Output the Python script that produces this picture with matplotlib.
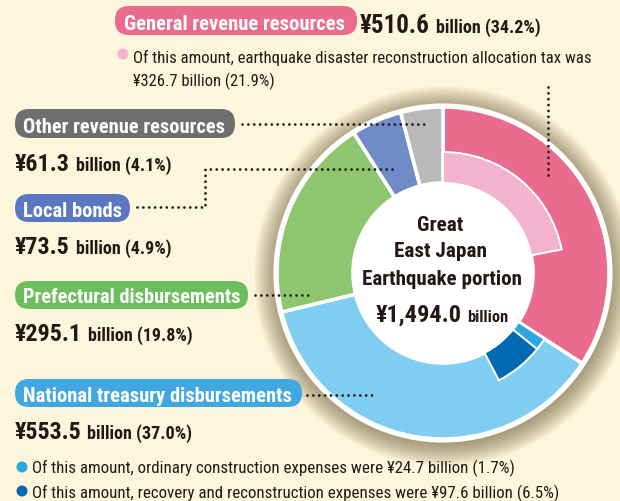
import matplotlib
matplotlib.use('Agg')
import matplotlib.pyplot as plt
from matplotlib.patches import Circle, FancyBboxPatch
import matplotlib.font_manager as fm

# ---------------- data ----------------
outer_labels = ['General revenue resources', 'National treasury disbursements',
                'Prefectural disbursements', 'Local bonds', 'Other revenue resources']
outer_values = [510.6, 553.5, 295.1, 73.5, 61.3]          # billion yen
outer_pct = [34.2, 37.0, 19.8, 4.9, 4.1]
outer_colors = ['#E96C8E', '#80CDF2', '#8DC66F', '#6F8CC9', '#B9B9B9']
pill_colors = ['#E96C8E', '#41A7E0', '#6CBD5B', '#5A78C2', '#6E6E6E']

sub_labels = ['earthquake disaster reconstruction allocation tax',
              'ordinary construction expenses',
              'recovery and reconstruction expenses']
sub_values = [326.7, 24.7, 97.6]
sub_pct = [21.9, 1.7, 6.5]
sub_colors = ['#F3B2CD', '#2BA8E1', '#0069B4']
total = 1494.0

# ---------------- style ----------------
W, H = 620, 502
BG = '#FEF6DC'
INK = '#231815'

avail = {f.name for f in fm.fontManager.ttflist}
if 'Liberation Sans Narrow' in avail:
    FAM, STRETCH = 'Liberation Sans Narrow', 'normal'
elif 'DejaVu Sans Condensed' in avail:
    FAM, STRETCH = 'DejaVu Sans Condensed', 'normal'
elif 'Roboto Condensed' in avail:
    FAM, STRETCH = 'Roboto Condensed', 'normal'
else:
    FAM, STRETCH = 'Liberation Sans', 'normal'


def Y(y):
    return H - y


fig = plt.figure(figsize=(W / 100, H / 100), dpi=100, facecolor=BG)
ax = fig.add_axes([0, 0, 1, 1])
ax.set_facecolor(BG)

cx, cy = 443, Y(274)
R, R_in, R_sub = 166, 90, 121

# soft shadow
n = 22
for i in range(n):
    r = R + 24 - i * 1.1
    ax.add_patch(Circle((cx + 1, cy - 3), r, facecolor='#5e4d25', edgecolor='none',
                        alpha=0.03, zorder=0.5))

wedges, _ = ax.pie(outer_values, colors=outer_colors, radius=R, center=(cx, cy),
                   startangle=90, counterclock=False, frame=True,
                   wedgeprops=dict(width=R - R_in, edgecolor='white', linewidth=2.6))
for w in wedges:
    w.set_zorder(1)

inner_vals = [sub_values[0], outer_values[0] - sub_values[0], sub_values[1], sub_values[2],
              total - outer_values[0] - sub_values[1] - sub_values[2]]
iw, _ = ax.pie(inner_vals, colors=[sub_colors[0], 'none', sub_colors[1], sub_colors[2], 'none'],
               radius=R_sub, center=(cx, cy), startangle=90, counterclock=False, frame=True,
               wedgeprops=dict(width=R_sub - R_in, edgecolor='white', linewidth=1.4))
iw[1].set_visible(False)
iw[4].set_visible(False)
for w in iw:
    w.set_zorder(2)

ax.add_patch(Circle((cx, cy), R_in, facecolor='white', edgecolor='none', zorder=3))
ax.add_patch(Circle((cx, cy), R + 1.5, facecolor='none', edgecolor='white', linewidth=3.0, zorder=4))

ax.set_xlim(0, W)
ax.set_ylim(0, H)
ax.set_aspect('equal')
ax.axis('off')

renderer = fig.canvas.get_renderer()


def txt(x, y, s, width, size, color=INK, weight='bold', ha='left', z=6):
    t = ax.text(x, Y(y), s, fontsize=size, color=color, fontweight=weight, family=FAM,
                fontstretch=STRETCH, ha=ha, va='baseline', zorder=z)
    w = t.get_window_extent(renderer).width
    if w > 0:
        t.set_fontsize(size * width / w)
    return t


def pill(x0, y0, x1, y1, color):
    ax.add_patch(FancyBboxPatch((x0, Y(y1)), x1 - x0, y1 - y0,
                                boxstyle='round,pad=0,rounding_size=14',
                                facecolor=color, edgecolor='none', zorder=5))


def dotted(xs, ys):
    ax.plot(xs, [Y(v) for v in ys], color=INK, linewidth=2.0,
            linestyle=(0, (0.01, 2.1)), dash_capstyle='round', zorder=5)


# ---- General revenue resources ----
pill(115, 7, 357, 36, pill_colors[0])
txt(124, 30, outer_labels[0], 221, 15, color='white')
txt(360, 33, f'¥{outer_values[0]:.1f}', 70, 18)
txt(436, 33, f'billion ({outer_pct[0]:.1f}%)', 105, 12.5)
ax.add_patch(Circle((123, Y(55)), 5.5, facecolor=sub_colors[0], edgecolor='none', zorder=5))
txt(133, 63, f'Of this amount, {sub_labels[0]} was', 463, 12.5, weight='normal')
txt(133, 86, f'¥{sub_values[0]:.1f} billion ({sub_pct[0]:.1f}%)', 142, 12.5, weight='normal')
dotted([548, 548], [88, 179])

# ---- Other revenue resources ----
pill(15, 110, 235, 139, pill_colors[4])
txt(23, 133, outer_labels[4], 202, 15, color='white')
txt(15, 171, f'¥{outer_values[4]:.1f}', 55, 18)
txt(76, 171, f'billion ({outer_pct[4]:.1f}%)', 96, 12.5)
dotted([242, 425], [125, 125])

# ---- Local bonds ----
pill(15, 195, 130, 223, pill_colors[3])
txt(23, 217, outer_labels[3], 99, 15, color='white')
txt(15, 254, f'¥{outer_values[3]:.1f}', 55, 18)
txt(76, 254, f'billion ({outer_pct[3]:.1f}%)', 96, 12.5)
dotted([137, 205, 205, 397], [208, 208, 170, 170])

# ---- Prefectural disbursements ----
pill(15, 282, 248, 310, pill_colors[2])
txt(23, 303, outer_labels[2], 218, 15, color='white')
txt(15, 341, f'¥{outer_values[2]:.1f}', 67, 18)
txt(88, 341, f'billion ({outer_pct[2]:.1f}%)', 105, 12.5)
dotted([255, 313], [296, 296])

# ---- National treasury disbursements ----
pill(15, 380, 302, 408, pill_colors[1])
txt(23, 402, outer_labels[1], 270, 15, color='white')
txt(15, 439, f'¥{outer_values[1]:.1f}', 67, 18)
txt(87, 439, f'billion ({outer_pct[1]:.1f}%)', 106, 12.5)
dotted([307, 372], [396, 396])
ax.add_patch(Circle((22, Y(468)), 5.5, facecolor=sub_colors[1], edgecolor='none', zorder=5))
txt(32, 473, f'Of this amount, {sub_labels[1]} were ¥{sub_values[1]:.1f} billion ({sub_pct[1]:.1f}%)',
    483, 12.5, weight='normal')
ax.add_patch(Circle((22, Y(492)), 5.5, facecolor=sub_colors[2], edgecolor='none', zorder=5))
txt(32, 498, f'Of this amount, {sub_labels[2]} were ¥{sub_values[2]:.1f} billion ({sub_pct[2]:.1f}%)',
    528, 12.5, weight='normal')

# ---- centre ----
txt(440, 231, 'Great', 46, 17, ha='center')
txt(440, 257, 'East Japan', 93, 17, ha='center')
txt(442, 285, 'Earthquake portion', 160, 17, ha='center')
txt(376, 322, f'¥{total:,.1f}', 86, 18)
txt(467, 322, 'billion', 41, 12.5)

fig.savefig('out.png', dpi=100, facecolor=BG)
